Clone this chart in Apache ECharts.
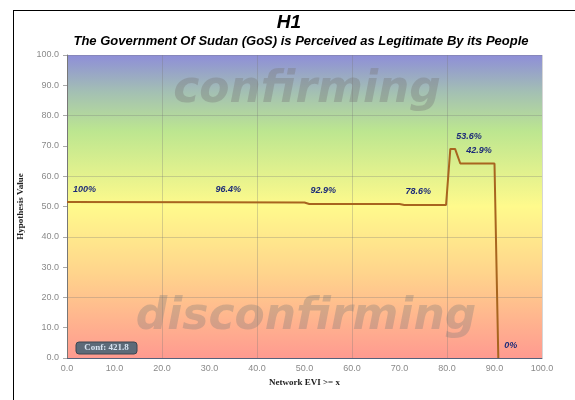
<!DOCTYPE html>
<html>
<head>
<meta charset="utf-8">
<title>H1</title>
<script src="https://cdn.jsdelivr.net/npm/echarts@6/dist/echarts.min.js"></script>
<style>
  html, body { margin: 0; padding: 0; background: #fff; }
  #chart { width: 575px; height: 400px; }
</style>
</head>
<body>
<div id="chart"></div>
<script>
// network EVI (x) and hypothesis value (y)
var eviX = [0, 30, 50, 51, 70, 71, 79.8, 80.7, 81.7, 82.8, 90.0, 90.8];
var hypY = [51.5, 51.4, 51.3, 50.8, 50.8, 50.5, 50.5, 69.0, 69.0, 64.2, 64.2, 0];
var pointLabels = ["100%", "96.4%", "92.9%", "", "78.6%", "", "", "53.6%", "", "42.9%", "", "0%"];
var confText = "Conf: 421.8";

var chart = echarts.init(document.getElementById("chart"));

var lineData = [];
for (var i = 0; i < eviX.length; i++) {
  lineData.push([eviX[i], hypY[i]]);
}

var bgGradient = new echarts.graphic.LinearGradient(0, 0, 0, 1, [
  { offset: 0, color: "#8e8ed8" },
  { offset: 0.12, color: "#a3bfb4" },
  { offset: 0.25, color: "#bce690" },
  { offset: 0.5, color: "#fffa8c" },
  { offset: 0.72, color: "#ffd48c" },
  { offset: 1, color: "#ff9a90" }
]);

// grid lines every 20 while ticks are every 10
var everyOther = ["rgba(120,120,120,0.3)", "rgba(0,0,0,0)"];

var option = {
  animation: false,
  textStyle: { fontFamily: "Liberation Sans" },
  title: [
    {
      text: "H1",
      left: 284, top: 8, textAlign: "center",
      textStyle: { fontSize: 19, fontWeight: "bold", fontStyle: "italic", color: "#000" }
    },
    {
      text: "The Government Of Sudan (GoS) is Perceived as Legitimate By its People",
      left: 296, top: 30, textAlign: "center",
      textStyle: { fontSize: 13, fontWeight: "bold", fontStyle: "italic", color: "#000" }
    }
  ],
  grid: {
    left: 67, top: 55, width: 475, height: 303,
    show: true, borderWidth: 0,
    backgroundColor: bgGradient
  },
  xAxis: {
    type: "value", min: 0, max: 100, interval: 10,
    name: "Network EVI >= x", nameLocation: "middle", nameGap: 19,
    nameTextStyle: { fontFamily: "Liberation Serif", fontWeight: "bold", fontSize: 9, color: "#222" },
    axisLine: { lineStyle: { color: "#55617a", width: 1 } },
    axisTick: { show: false },
    axisLabel: {
      margin: 6, fontSize: 9, color: "#8a8a8a",
      formatter: function (v) { return v.toFixed(1); }
    },
    splitLine: { show: true, lineStyle: { color: everyOther, width: 1 } }
  },
  yAxis: {
    type: "value", min: 0, max: 100, interval: 10,
    name: "Hypothesis Value", nameLocation: "middle", nameGap: 36,
    nameTextStyle: { fontFamily: "Liberation Serif", fontWeight: "bold", fontSize: 9, color: "#222" },
    axisLine: { show: true, lineStyle: { color: "#777", width: 1 } },
    axisTick: { show: true, length: 4, lineStyle: { color: "#aaa" } },
    axisLabel: {
      margin: 8, fontSize: 9, color: "#8a8a8a",
      formatter: function (v) { return v.toFixed(1); }
    },
    splitLine: { show: true, lineStyle: { color: everyOther, width: 1 } }
  },
  graphic: [
    { type: "line", z: 10, shape: { x1: 13, y1: 10.5, x2: 575, y2: 10.5 }, style: { stroke: "#000", lineWidth: 1 } },
    { type: "line", z: 10, shape: { x1: 13.5, y1: 10, x2: 13.5, y2: 400 }, style: { stroke: "#000", lineWidth: 1 } },
    {
      type: "text", z: 1, x: 307, y: 91,
      style: {
        text: "confirming", align: "center", verticalAlign: "middle",
        font: "italic bold 44px 'DejaVu Sans'", fill: "rgba(120,120,120,0.36)"
      }
    },
    {
      type: "text", z: 1, x: 306, y: 318,
      style: {
        text: "disconfirming", align: "center", verticalAlign: "middle",
        font: "italic bold 44px 'DejaVu Sans'", fill: "rgba(120,120,120,0.32)"
      }
    },
    {
      type: "rect", z: 5, shape: { x: 76, y: 342, width: 61, height: 12, r: 3 },
      style: { fill: "#5d6a78", stroke: "#3c4652", lineWidth: 1 }
    },
    {
      type: "text", z: 6, x: 106.5, y: 348,
      style: {
        text: confText, align: "center", verticalAlign: "middle",
        font: "bold 9px 'Liberation Serif'", fill: "#d8e4f2"
      }
    }
  ],
  series: [
    {
      type: "line",
      data: lineData,
      showSymbol: true,
      showAllSymbol: true,
      symbol: "circle",
      symbolSize: 0,
      z: 3,
      lineStyle: { color: "#a8651f", width: 2 },
      itemStyle: { color: "#a8651f" },
      label: {
        show: true,
        position: [6, -17],
        fontSize: 9,
        fontWeight: "bold",
        fontStyle: "italic",
        color: "#1c2a78",
        formatter: function (p) { return pointLabels[p.dataIndex]; }
      },
      labelLayout: { hideOverlap: false }
    }
  ]
};

chart.setOption(option);
</script>
</body>
</html>
